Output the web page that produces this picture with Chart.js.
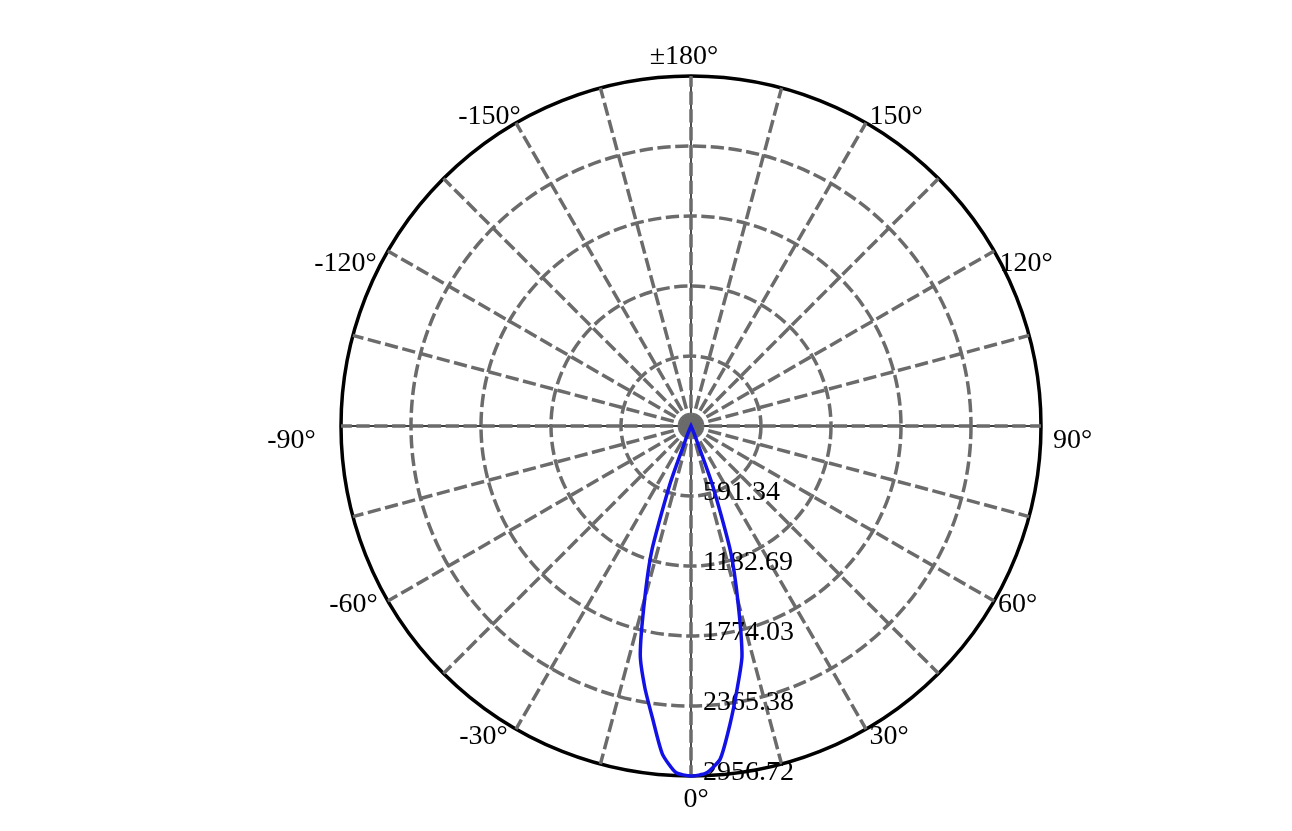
<!DOCTYPE html>
<html>
<head>
<meta charset="utf-8">
<script src="https://cdn.jsdelivr.net/npm/chart.js@4"></script>
<style>
  html, body { margin: 0; padding: 0; background: #ffffff; overflow: hidden; }
  #wrap { position: relative; width: 1292px; height: 831px; }
</style>
</head>
<body>
<div id="wrap"><canvas id="c"></canvas></div>
<script>
// ---- data ----
// angular categories: 180° at the top, decreasing clockwise in 2.5° steps
const angleStep = 2.5;
const angleLabels = [];
for (let a = 180; a > -180; a -= angleStep) angleLabels.push(a);

// luminous intensity (cd), one value per angle in angleLabels order
const intensity = [
  0, 0, 0, 0, 0, 0, 0, 0, 0, 0, 0, 0,                      // 180 .. 152.5
  0, 0, 0, 0, 0, 0, 0, 0, 0, 0, 0, 0,                      // 150 .. 122.5
  0, 0, 0, 0, 0, 0, 0, 0, 0, 0, 0, 0,                      // 120 .. 92.5
  0, 0, 0, 0, 0, 0, 0, 0, 0, 0, 0, 0,                      // 90 .. 62.5
  0, 0, 0, 0, 0, 0, 0, 0, 0, 0, 0, 0,                      // 60 .. 32.5
  0, 0, 10, 70, 530, 1110, 1530, 1990, 2250, 2535, 2825, 2935,   // 30 .. 2.5
  2956.72, 2930, 2780, 2490, 2245, 1980, 1510, 1095, 510, 66, 10, 0, // 0 .. -27.5
  0, 0, 0, 0, 0, 0, 0, 0, 0, 0, 0, 0,                      // -30 .. -57.5
  0, 0, 0, 0, 0, 0, 0, 0, 0, 0, 0, 0,                      // -60 .. -87.5
  0, 0, 0, 0, 0, 0, 0, 0, 0, 0, 0, 0,                      // -90 .. -117.5
  0, 0, 0, 0, 0, 0, 0, 0, 0, 0, 0, 0,                      // -120 .. -147.5
  0, 0, 0, 0, 0, 0, 0, 0, 0, 0, 0, 0                       // -150 .. -177.5
];

const radialTicks = [0, 591.344, 1182.688, 1774.032, 2365.376, 2956.72];
const radialTickLabels = ['', '591.34', '1182.69', '1774.03', '2365.38', '2956.72'];

const angleTickValues = [0, 30, 60, 90, 120, 150, 180, -150, -120, -90, -60, -30];
const angleTickLabels = ['0°', '30°', '60°', '90°', '120°', '150°', '±180°', '-150°', '-120°', '-90°', '-60°', '-30°'];

// ---- style / placement ----
const FONT = '28px "Liberation Serif", "Times New Roman", serif';
const GRID_GRAY = '#6b6b6b';
const DASH = [13.3, 4.55];
// label centre offsets from the point on the outer circle (px)
const angleLabelOffset = {
  '0': [5, 24], '30': [23, 8], '60': [23.5, 4], '90': [31.5, 15], '120': [32, 13], '150': [30, -6],
  '180': [-7, -19], '-150': [-26.5, -6], '-120': [-42.5, 13], '-90': [-49.5, 15], '-60': [-34.5, 4], '-30': [-32.5, 8]
};

function indexForAngle(a) {
  const n = angleLabels.length;
  return (((180 - a) / angleStep) % n + n) % n;
}

const polarDecor = {
  id: 'polarDecor',
  beforeDraw(chart) {
    const s = chart.scales.r;
    const ctx = chart.ctx;
    const R = s.drawingArea;
    ctx.save();
    ctx.strokeStyle = '#000';
    ctx.lineWidth = 1.4;
    ctx.beginPath();
    ctx.moveTo(s.xCenter - R, s.yCenter); ctx.lineTo(s.xCenter + R, s.yCenter);
    ctx.moveTo(s.xCenter, s.yCenter - R); ctx.lineTo(s.xCenter, s.yCenter + R);
    ctx.stroke();
    ctx.restore();
  },
  beforeDatasetsDraw(chart) {
    const s = chart.scales.r;
    const ctx = chart.ctx;
    ctx.save();
    ctx.font = FONT;
    ctx.fillStyle = '#000';
    ctx.textAlign = 'left';
    ctx.textBaseline = 'middle';
    radialTicks.forEach((v, i) => {
      if (!radialTickLabels[i]) return;
      const d = s.getDistanceFromCenterForValue(v);
      ctx.fillText(radialTickLabels[i], s.xCenter + 12, s.yCenter + d - 3);
    });
    ctx.restore();
  },
  afterDraw(chart) {
    const s = chart.scales.r;
    const ctx = chart.ctx;
    ctx.save();
    ctx.font = FONT;
    ctx.fillStyle = '#000';
    ctx.textAlign = 'center';
    ctx.textBaseline = 'middle';
    angleTickValues.forEach((a, i) => {
      const p = s.getPointPosition(indexForAngle(a), s.drawingArea);
      const off = angleLabelOffset[String(a)];
      ctx.fillText(angleTickLabels[i], p.x + off[0], p.y + off[1]);
    });
    ctx.restore();
  }
};

const lastTick = radialTicks.length - 1;

new Chart(document.getElementById('c'), {
  type: 'radar',
  data: {
    labels: angleLabels,
    datasets: [{
      data: intensity,
      borderColor: '#1212e6',
      borderWidth: 3.5,
      pointRadius: 0,
      pointHoverRadius: 0,
      fill: false,
      tension: 0.2
    }]
  },
  options: {
    responsive: true,
    maintainAspectRatio: false,
    animation: false,
    layout: { padding: { left: 90, right: 0, top: 76, bottom: 55 } },
    plugins: { legend: { display: false }, tooltip: { enabled: false } },
    scales: {
      r: {
        min: 0,
        max: 2956.72,
        startAngle: 0,
        afterBuildTicks: (scale) => { scale.ticks = radialTicks.map(v => ({ value: v })); },
        ticks: { display: false },
        pointLabels: { display: false },
        grid: {
          circular: true,
          color: (c) => c.index === lastTick ? '#000000' : GRID_GRAY,
          lineWidth: 3.5
        },
        border: {
          dash: (c) => c.index === lastTick ? [] : DASH
        },
        angleLines: {
          display: true,
          color: GRID_GRAY,
          lineWidth: (c) => (c.index % 6 === 0) ? 3.5 : 0,
          borderDash: DASH,
          borderDashOffset: 0
        }
      }
    }
  },
  plugins: [polarDecor]
});
</script>
</body>
</html>
